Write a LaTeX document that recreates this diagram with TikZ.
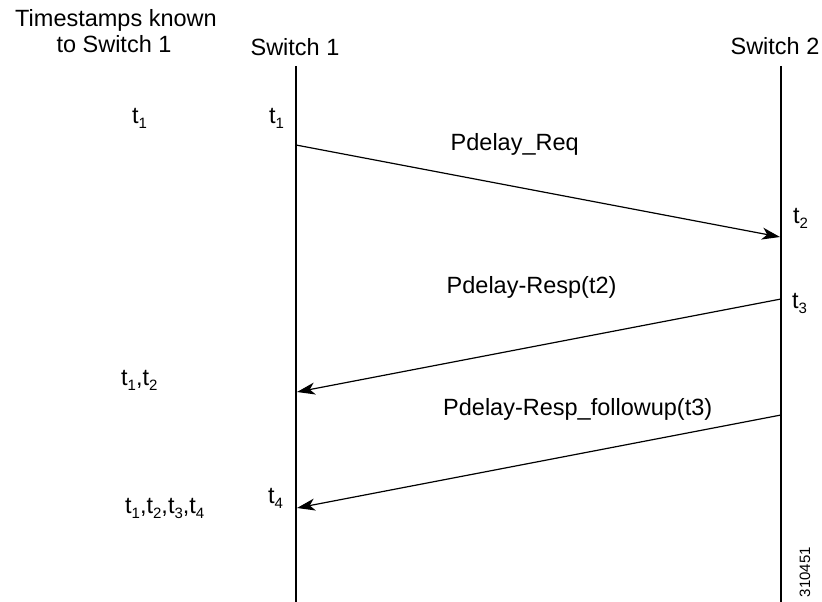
\documentclass[tikz,border=0pt]{standalone}
\usepackage{fontspec}
\setmainfont{Liberation Sans}
\usetikzlibrary{arrows.meta}

% lowered subscript for timestamp names
\newcommand{\tsub}[1]{\raisebox{-5.5pt}{\fontsize{15}{15}\selectfont #1}}
\newcommand{\ts}[1]{t\tsub{#1}}

\begin{document}
\begin{tikzpicture}[x=1pt,y=-1pt,
    lbl/.style={inner sep=0pt,font=\fontsize{23.5}{26}\selectfont},
    lifeline/.style={line width=2pt},
    msg/.style={line width=1.2pt,-{Stealth[length=18pt,width=12pt,inset=5pt]}},
  ]
  \useasboundingbox (0,0) rectangle (822,602);

  % headings
  \node[lbl,anchor=base] (hdA) at (116,27) {Timestamps known};
  \node[lbl,anchor=base] (hdB) at (114,53) {to Switch 1};
  \node[lbl,anchor=base] (sw1) at (295,56) {Switch 1};
  \node[lbl,anchor=base] (sw2) at (775,55) {Switch 2};

  % lifelines
  \coordinate (s1top) at (296,66);
  \coordinate (s1bot) at (296,602);
  \coordinate (s2top) at (781,66);
  \coordinate (s2bot) at (781,602);
  \draw[lifeline] (s1top) -- (s1bot);
  \draw[lifeline] (s2top) -- (s2bot);

  % message end points
  \coordinate (reqA) at (296,145);
  \coordinate (reqB) at (780,237);
  \coordinate (respA) at (781,299);
  \coordinate (respB) at (297,392);
  \coordinate (fupA) at (781,415);
  \coordinate (fupB) at (297,508);

  \draw[msg] (reqA) -- (reqB);
  \draw[msg] (respA) -- (respB);
  \draw[msg] (fupA) -- (fupB);

  % message labels
  \node[lbl,anchor=base west] (req) at (450.5,150) {Pdelay\_Req};
  \node[lbl,anchor=base west] (resp) at (446.5,293) {Pdelay-Resp(t2)};
  \node[lbl,anchor=base west] (fup) at (443,415) {Pdelay-Resp\_followup(t3)};

  % timestamps at the lifelines
  \node[lbl,anchor=base west] (tA) at (269,123) {\ts{1}};
  \node[lbl,anchor=base west] (tB) at (793,223) {\ts{2}};
  \node[lbl,anchor=base west] (tC) at (792,308) {\ts{3}};
  \node[lbl,anchor=base west] (tD) at (268,503) {\ts{4}};

  % timestamps known to switch 1
  \node[lbl,anchor=base west] (kA) at (132,123) {\ts{1}};
  \node[lbl,anchor=base west] (kB) at (121,385) {\ts{1},\ts{2}};
  \node[lbl,anchor=base west] (kC) at (125,513) {\ts{1},\ts{2},\ts{3},\ts{4}};

  % figure number
  \node[inner sep=0pt,rotate=90,font=\fontsize{15}{15}\selectfont] (fig) at (805,572) {310451};
\end{tikzpicture}
\end{document}
